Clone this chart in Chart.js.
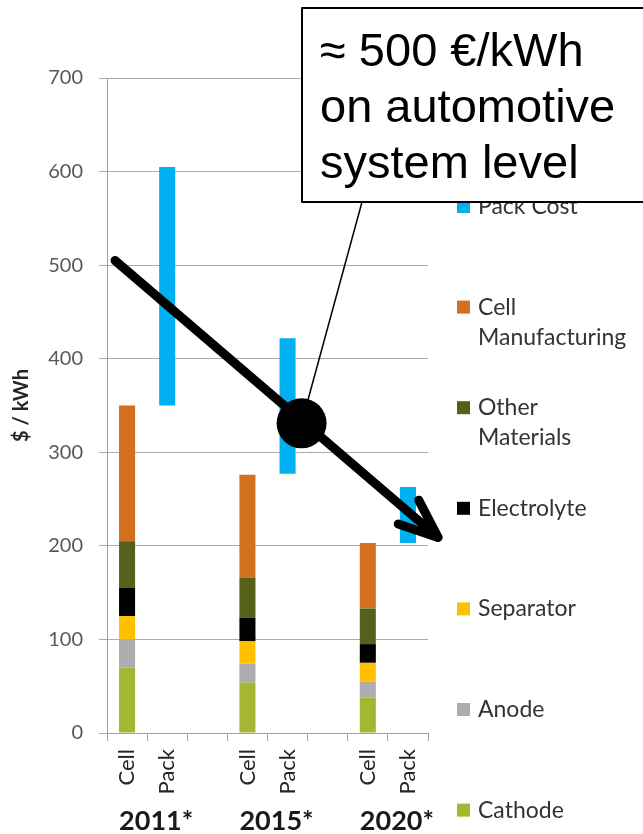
<!DOCTYPE html>
<html>
<head>
<meta charset="utf-8">
<script src="https://cdn.jsdelivr.net/npm/chart.js@4.4.1/dist/chart.umd.min.js"></script>
<style>
html,body{margin:0;padding:0;background:#fff;}
#wrap{width:643px;height:834px;position:relative;}
</style>
</head>
<body>
<div id="wrap"><canvas id="c"></canvas></div>
<script>
// ---- data ----
const categories = ['Cell', 'Pack', '', 'Cell', 'Pack', '', 'Cell', 'Pack'];
const years = ['2011*', '2015*', '2020*'];
const cathode           = [70, null, null, 54, null, null, 38, null];
const anode             = [30, null, null, 20, null, null, 17, null];
const separator         = [25, null, null, 24, null, null, 20, null];
const electrolyte       = [30, null, null, 25, null, null, 20, null];
const otherMaterials    = [50, null, null, 43, null, null, 38, null];
const cellManufacturing = [145, null, null, 110, null, null, 70, null];
const packCost          = [null, [350, 605], null, null, [277, 422], null, null, [203, 263]];
const yMin = 0, yMax = 700, yStep = 100;
const seriesNames = ['Cathode', 'Anode', 'Separator', 'Electrolyte', 'Other Materials', 'Cell Manufacturing', 'Pack Cost'];
const legendLines = [['Cathode'], ['Anode'], ['Separator'], ['Electrolyte'], ['Other', 'Materials'], ['Cell', 'Manufacturing'], ['Pack Cost']];
const yTitle = '$ / kWh';
const calloutLines = ['\u2248 500 \u20AC/kWh', 'on automotive', 'system level'];
// trend arrow annotation in data units (category index, value)
const trendStart = [-0.30, 505];
const trendEnd = [7.75, 209];
const trendDot = [4.35, 331];

// ---- styles ----
const colors = ['#A5B634', '#ADADAD', '#FFC000', '#000000', '#55611A', '#D3701F', '#00B0F0'];
const seriesData = [cathode, anode, separator, electrolyte, otherMaterials, cellManufacturing, packCost];
const FONT = 'Lato, Carlito, "Open Sans", sans-serif';

const datasets = seriesData.map((d, i) => ({
  label: seriesNames[i],
  data: d,
  backgroundColor: colors[i],
  borderWidth: 0,
  barPercentage: 0.5,
  categoryPercentage: 0.8
}));

const overlay = {
  id: 'overlay',
  afterDraw(chart) {
    const ctx = chart.ctx;
    const ca = chart.chartArea;
    const xs = chart.scales.x, ys = chart.scales.y;
    ctx.save();

    // y axis title
    ctx.save();
    ctx.translate(22, (ca.top + ca.bottom) / 2);
    ctx.rotate(-Math.PI / 2);
    ctx.font = 'bold 20px ' + FONT;
    ctx.fillStyle = '#262626';
    ctx.textAlign = 'center';
    ctx.textBaseline = 'middle';
    ctx.fillText(yTitle, 0, 0);
    ctx.restore();

    // year group labels
    ctx.font = 'bold 27px ' + FONT;
    ctx.fillStyle = '#1a1a1a';
    ctx.textAlign = 'center';
    ctx.textBaseline = 'alphabetic';
    years.forEach((y, g) => {
      const xc = (xs.getPixelForValue(g * 3) + xs.getPixelForValue(g * 3 + 1)) / 2 + 9;
      ctx.fillText(y, xc, 830);
    });

    // legend (reverse order)
    const lx = ca.right + 29;
    ctx.font = '23px ' + FONT;
    ctx.textAlign = 'left';
    for (let k = 0; k < seriesNames.length; k++) {
      const i = seriesNames.length - 1 - k;
      const base = 214 + k * 100.6;
      ctx.fillStyle = colors[i];
      ctx.fillRect(lx, base - 14, 13, 13);
      ctx.fillStyle = '#333333';
      legendLines[i].forEach((t, j) => ctx.fillText(t, lx + 21, base + j * 30));
    }

    // trend arrow
    const sx = xs.getPixelForValue(trendStart[0]), sy = ys.getPixelForValue(trendStart[1]);
    const ex = xs.getPixelForValue(trendEnd[0]), ey = ys.getPixelForValue(trendEnd[1]);
    ctx.strokeStyle = '#000';
    ctx.lineWidth = 9;
    ctx.lineCap = 'round';
    ctx.lineJoin = 'round';
    ctx.beginPath();
    ctx.moveTo(sx, sy);
    ctx.lineTo(ex, ey);
    ctx.stroke();
    const ang = Math.atan2(ey - sy, ex - sx);
    const wl = 42, wa = 22 * Math.PI / 180;
    ctx.beginPath();
    ctx.moveTo(ex + wl * Math.cos(ang + Math.PI - wa), ey + wl * Math.sin(ang + Math.PI - wa));
    ctx.lineTo(ex, ey);
    ctx.lineTo(ex + wl * Math.cos(ang + Math.PI + wa), ey + wl * Math.sin(ang + Math.PI + wa));
    ctx.stroke();

    // leader line + dot
    const dx = xs.getPixelForValue(trendDot[0]), dy = ys.getPixelForValue(trendDot[1]);
    ctx.lineWidth = 1.5;
    ctx.lineCap = 'butt';
    ctx.beginPath();
    ctx.moveTo(362, 202);
    ctx.lineTo(dx, dy);
    ctx.stroke();
    ctx.fillStyle = '#000';
    ctx.beginPath();
    ctx.arc(dx, dy, 25, 0, Math.PI * 2);
    ctx.fill();

    // callout box
    ctx.fillStyle = '#fff';
    ctx.fillRect(302, 8, 360, 194);
    ctx.strokeStyle = '#000';
    ctx.lineWidth = 2;
    ctx.strokeRect(302, 8, 360, 194);
    ctx.fillStyle = '#000';
    ctx.font = '47px "Liberation Sans", Arial, sans-serif';
    ctx.textAlign = 'left';
    calloutLines.forEach((t, j) => ctx.fillText(t, 320, 66 + j * 56));

    ctx.restore();
  }
};

new Chart(document.getElementById('c'), {
  type: 'bar',
  data: { labels: categories, datasets },
  options: {
    responsive: true,
    maintainAspectRatio: false,
    animation: false,
    layout: { padding: { left: 0, top: 78, right: 215, bottom: 0 } },
    plugins: { legend: { display: false }, tooltip: { enabled: false }, title: { display: false } },
    scales: {
      x: {
        stacked: true,
        afterFit(s) { s.height = 101; },
        grid: { display: true, offset: true, drawOnChartArea: false, drawTicks: true, tickLength: 8, color: '#a0a0a0' },
        border: { display: true, color: '#a0a0a0' },
        ticks: { autoSkip: false, maxRotation: 90, minRotation: 90, padding: 8, color: '#262626', font: { family: FONT, size: 22 } }
      },
      y: {
        stacked: true,
        min: yMin, max: yMax,
        afterFit(s) { s.width = 107; },
        grid: { color: '#ababab', tickLength: 8, drawTicks: true },
        border: { display: true, color: '#a0a0a0' },
        ticks: { stepSize: yStep, padding: 16, color: '#595959', font: { family: FONT, size: 20 } }
      }
    }
  },
  plugins: [overlay]
});
</script>
</body>
</html>
